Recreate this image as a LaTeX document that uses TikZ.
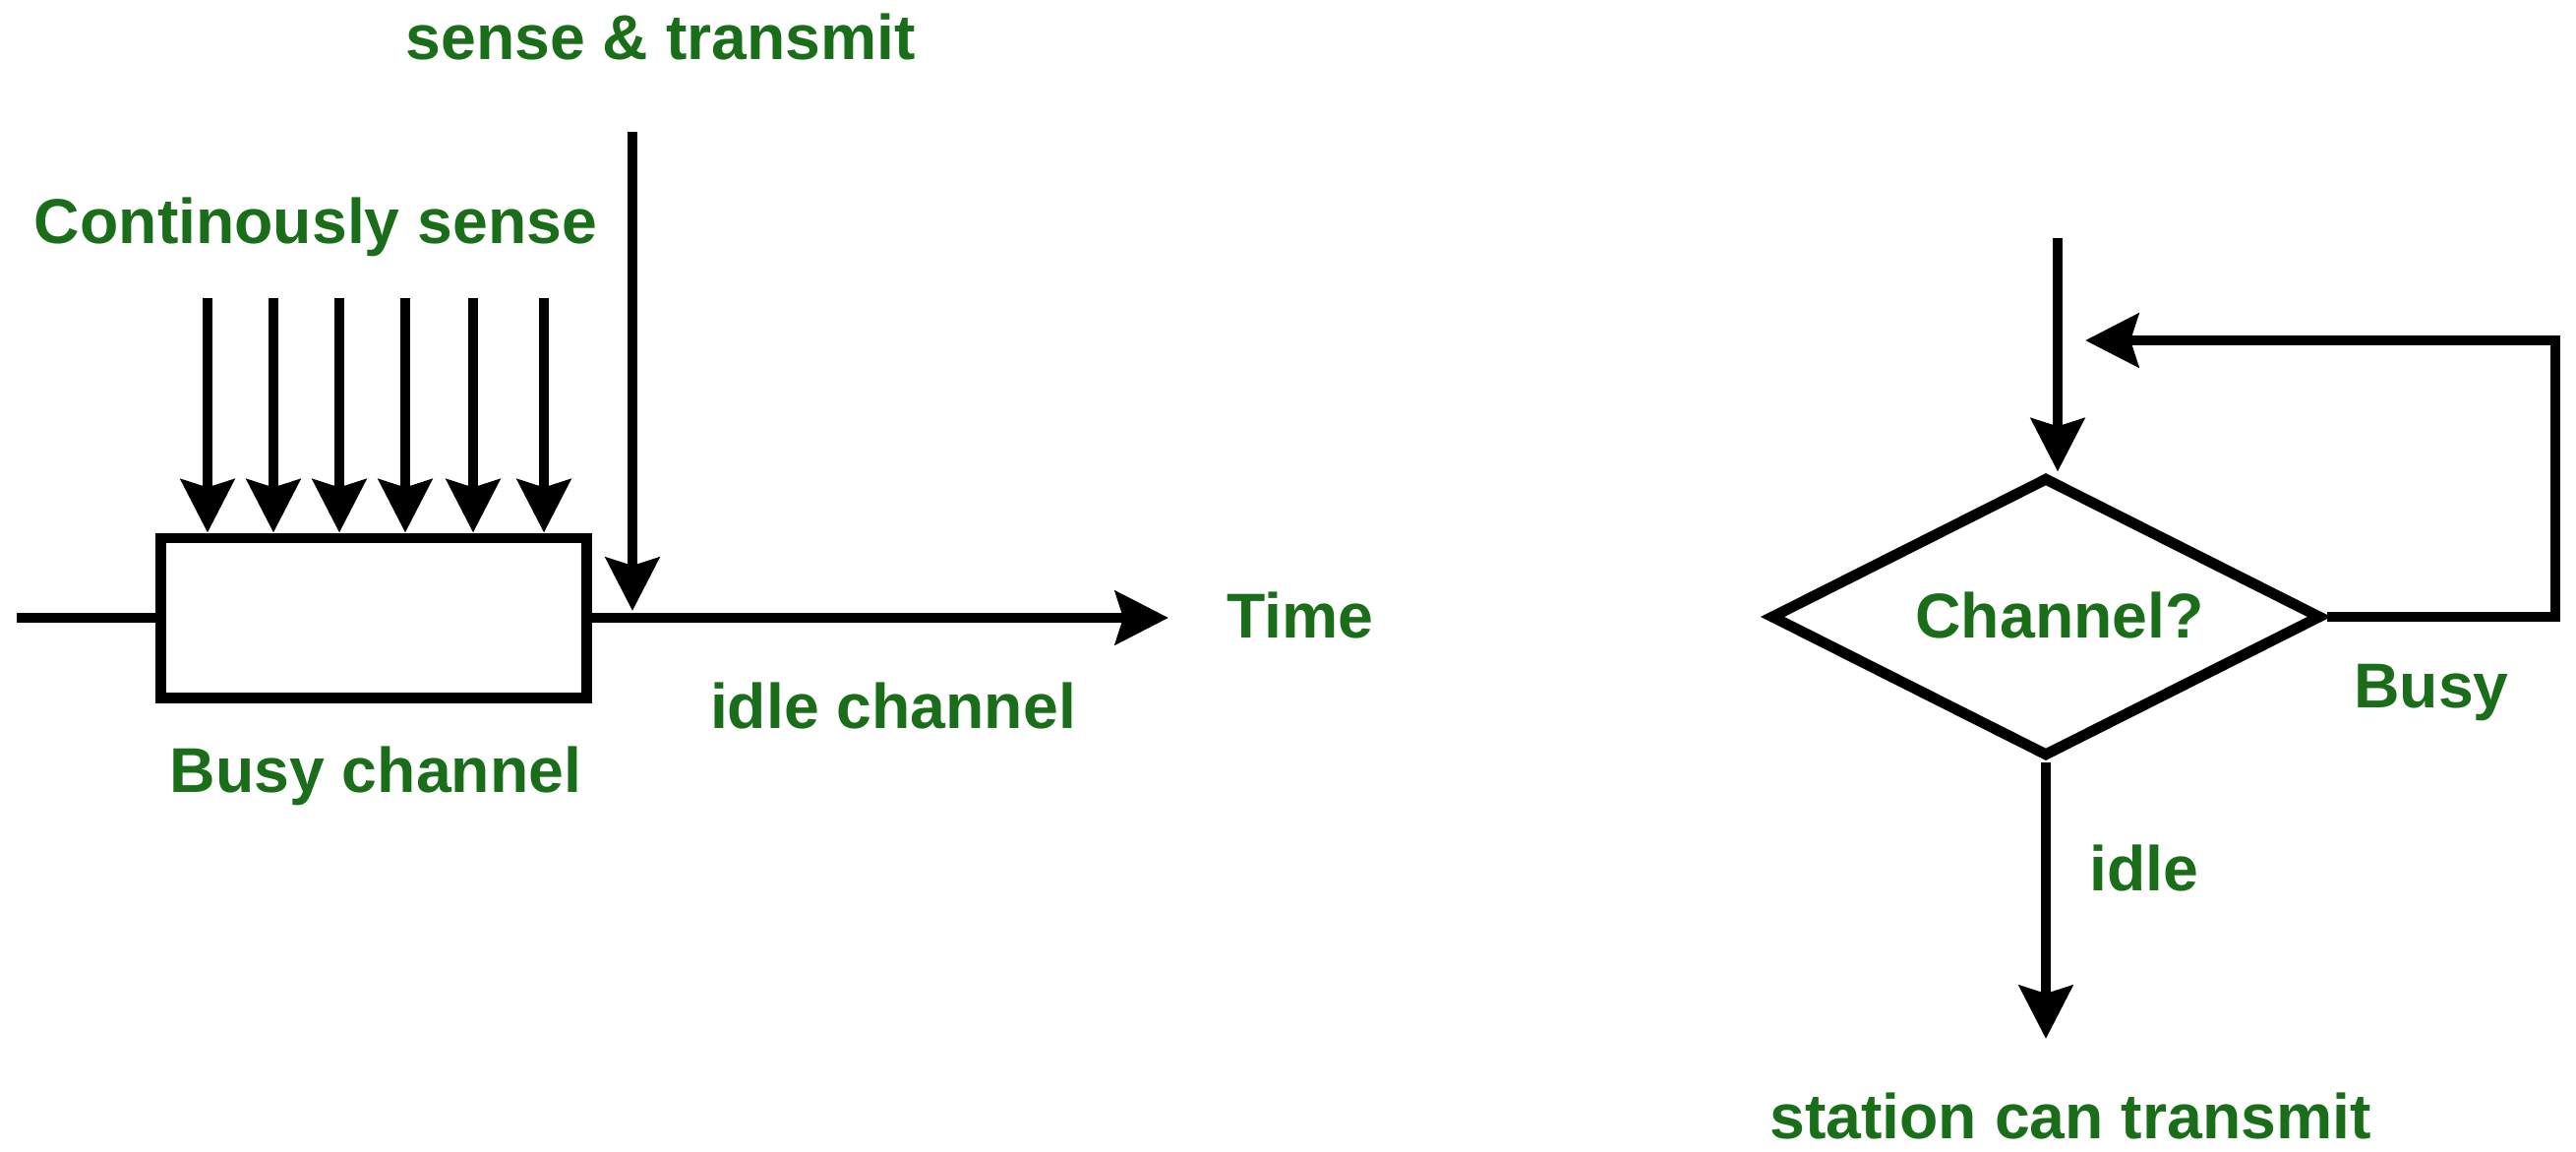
\documentclass[tikz,border=0pt]{standalone}
\usepackage{fontspec}
\setmainfont{Liberation Sans}
\usetikzlibrary{arrows.meta,shapes.geometric}
\definecolor{labelgreen}{RGB}{26,110,26}
\begin{document}
\begin{tikzpicture}[x=0.01cm,y=-0.01cm,
  line/.style={line width=3.1pt, black},
  arr/.style={line, -{Stealth[length=5.4mm,width=5.4mm,inset=0.8mm]}},
  lbl/.style={text=labelgreen, font=\bfseries\fontsize{18.3}{21}\selectfont, anchor=base, inner sep=0pt},
]
\fill[white] (0,0) rectangle (2619,1170);
\useasboundingbox (0,0) rectangle (2619,1170);

% ---- timeline: busy period followed by idle channel ----
\node[line, draw, minimum width=4.33cm, minimum height=1.62cm, inner sep=0pt] (busy) at (380,628) {};
\coordinate (start) at (17,628);
\coordinate (tend) at (1188,628);
\draw[line] (start) -- (busy.west);
\draw[arr] (busy.east) -- (tend);

% continuous sensing during the busy period
\foreach \x [count=\i] in {211,278,345,412,481,553} {
  \coordinate (s\i) at (\x,303);
  \draw[arr] (s\i) -- (s\i |- busy.north);
}

% sense and transmit once idle
\coordinate (st) at (643,134);
\coordinate (hit) at (643,621);
\draw[arr] (st) -- (hit);

\node[lbl] (lsense) at (672,61) {sense \& transmit};
\node[lbl] (lcont) at (321,247) {Continously sense};
\node[lbl] (ltime) at (1322,648) {Time};
\node[lbl] (lidlech) at (908,740) {idle channel};
\node[lbl] (lbusych) at (382,805) {Busy channel};

% ---- decision flow ----
\node[line, draw, diamond, aspect=1.97, minimum width=5.6cm, minimum height=2.84cm, inner sep=0pt] (dec) at (2080,627) {};
\node[lbl] (lchan) at (2094,648) {Channel?};

\coordinate (in) at (2092,242);
\draw[arr] (in) -- (in |- dec.north);

\coordinate (ret) at (2598,346);
\coordinate (back) at (2120,346);
\draw[arr] (dec.east) -| (ret) -- (back);

\coordinate (out) at (2080,1056);
\draw[arr] (dec.south) -- (out);

\node[lbl] (lbusy) at (2472,719) {Busy};
\node[lbl] (lidle) at (2180,905) {idle};
\node[lbl] (lstation) at (2105,1157) {station can transmit};
\end{tikzpicture}
\end{document}
